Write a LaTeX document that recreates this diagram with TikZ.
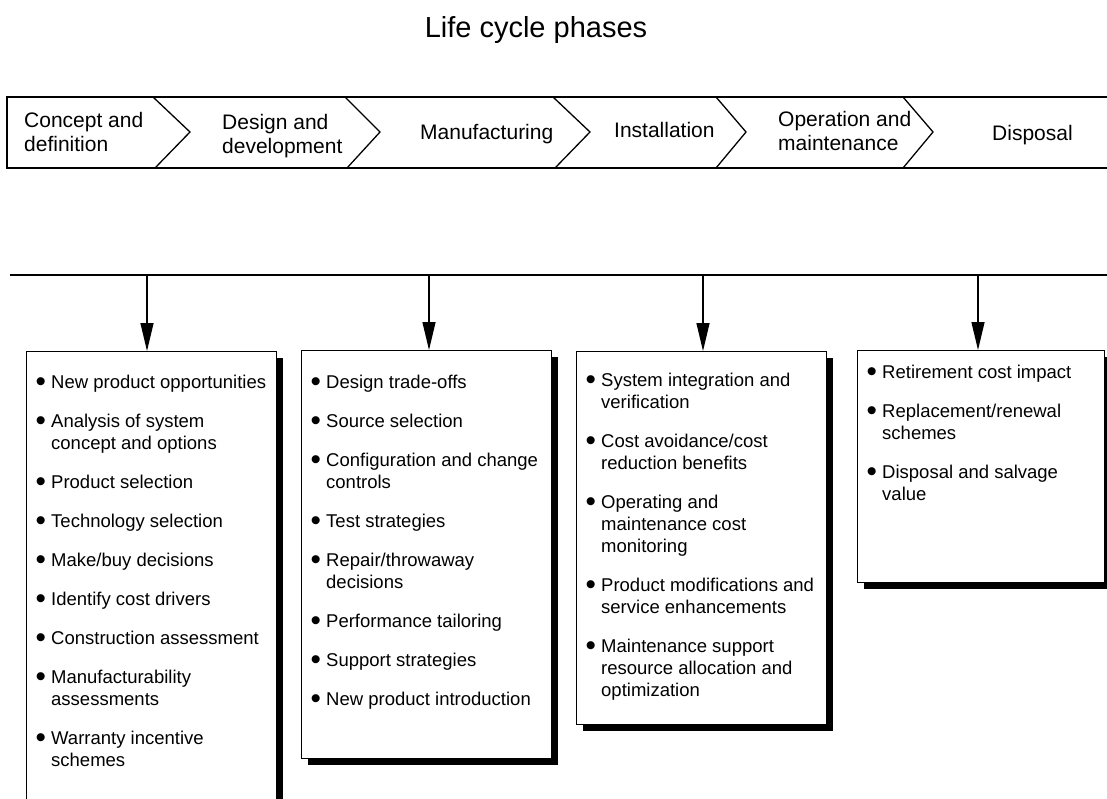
\documentclass[tikz,border=0pt]{standalone}
\usepackage{fontspec}
\setmainfont{Liberation Sans}
\usetikzlibrary{arrows.meta,shadows}
\newcommand\bul{\makebox[15.5pt][l]{\raisebox{-3pt}{\scalebox{1.6}{\textbullet}}}}
\newcommand\boxfont{\fontsize{18.5}{22}\selectfont}
\begin{document}
\begin{tikzpicture}[x=1pt,y=-1pt,
  phase/.style={anchor=base west, align=left, inner sep=0pt, font=\fontsize{21}{24}\selectfont},
  itembox/.style={draw, line width=1.3pt, fill=white, anchor=north west, inner sep=0pt,
    general shadow={fill=black, shadow xshift=6pt, shadow yshift=-6pt}},
  items/.style={anchor=base west, inner sep=0pt, font=\boxfont},
  arr/.style={line width=1.3pt, -{Triangle[length=28pt,width=13pt]}},
  band/.style={line width=1.6pt},
  chev/.style={line width=1.3pt}
]
\useasboundingbox (0,0) rectangle (1107,798);

% title
\node[anchor=base, inner sep=0pt, font=\fontsize{29}{34}\selectfont] (title) at (536,37.4) {Life cycle phases};

% phase band
\draw[band] (1107,97) -- (7,97) -- (7,168) -- (1107,168);
\draw[chev] (153,97) -- (190,132) -- (155,168);
\draw[chev] (345,97) -- (380,132) -- (347,168);
\draw[chev] (553,97) -- (590,132) -- (555,168);
\draw[chev] (716,97) -- (746,132) -- (716,168);
\draw[chev] (903,97) -- (933,132) -- (903,168);

\node[phase] (p1) at (24,151.5) {Concept and\\definition};
\node[phase] (p2) at (222,153.5) {Design and\\development};
\node[phase] (p3) at (420,139.5) {Manufacturing};
\node[phase] (p4) at (614,137.5) {Installation};
\node[phase] (p5) at (778,150.5) {Operation and\\maintenance};
\node[phase] (p6) at (992,140.5) {Disposal};

% boxes
\node[itembox, minimum width=250pt, minimum height=480pt] (b1) at (26,351) {};
\node[itembox, minimum width=250pt, minimum height=408pt] (b2) at (301,350) {};
\node[itembox, minimum width=250pt, minimum height=373pt] (b3) at (576,351) {};
\node[itembox, minimum width=247pt, minimum height=232pt] (b4) at (857,350) {};

% distribution line and arrows
\draw[band] (10,275) -- (1107,275);
\coordinate (a1) at (147,275);
\coordinate (a2) at (429,275);
\coordinate (a3) at (703,275);
\coordinate (a4) at (978,275);
\draw[arr] (a1) -- (a1 |- b1.north);
\draw[arr] (a2) -- (a2 |- b2.north);
\draw[arr] (a3) -- (a3 |- b3.north);
\draw[arr] (a4) -- (a4 |- b4.north);

% item lists
\node[items] (t1) at (35.5,388.6) {\begin{tabular}[t]{@{}l@{}l@{}}
\bul & New product opportunities\\[17pt]
\bul & Analysis of system\\
     & concept and options\\[17pt]
\bul & Product selection\\[17pt]
\bul & Technology selection\\[17pt]
\bul & Make/buy decisions\\[17pt]
\bul & Identify cost drivers\\[17pt]
\bul & Construction assessment\\[17pt]
\bul & Manufacturability\\
     & assessments\\[17pt]
\bul & Warranty incentive\\
     & schemes
\end{tabular}};

\node[items] (t2) at (310.5,388.6) {\begin{tabular}[t]{@{}l@{}l@{}}
\bul & Design trade-offs\\[17pt]
\bul & Source selection\\[17pt]
\bul & Configuration and change\\
     & controls\\[17pt]
\bul & Test strategies\\[17pt]
\bul & Repair/throwaway\\
     & decisions\\[17pt]
\bul & Performance tailoring\\[17pt]
\bul & Support strategies\\[17pt]
\bul & New product introduction
\end{tabular}};

\node[items] (t3) at (585.5,386.6) {\begin{tabular}[t]{@{}l@{}l@{}}
\bul & System integration and\\
     & verification\\[17pt]
\bul & Cost avoidance/cost\\
     & reduction benefits\\[17pt]
\bul & Operating and\\
     & maintenance cost\\
     & monitoring\\[17pt]
\bul & Product modifications and\\
     & service enhancements\\[17pt]
\bul & Maintenance support\\
     & resource allocation and\\
     & optimization
\end{tabular}};

\node[items] (t4) at (866.5,378.6) {\begin{tabular}[t]{@{}l@{}l@{}}
\bul & Retirement cost impact\\[17pt]
\bul & Replacement/renewal\\
     & schemes\\[17pt]
\bul & Disposal and salvage\\
     & value
\end{tabular}};
\end{tikzpicture}
\end{document}
